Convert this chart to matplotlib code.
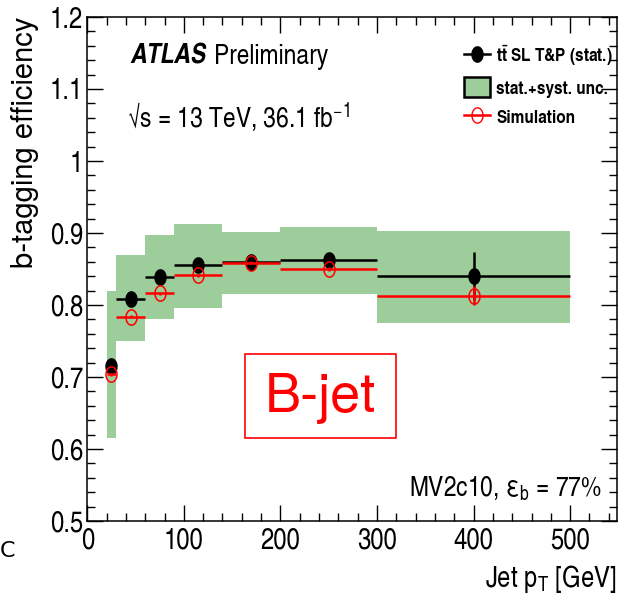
import numpy as np
import matplotlib
matplotlib.use("Agg")
import matplotlib.pyplot as plt
from matplotlib.path import Path
from matplotlib.patches import Patch, Rectangle
from matplotlib.lines import Line2D
from matplotlib.ticker import MultipleLocator

# ---- data -------------------------------------------------------------
bin_lo = [20, 30, 60, 90, 140, 200, 300]
bin_hi = [30, 60, 90, 140, 200, 300, 500]
data_eff = [0.715, 0.808, 0.839, 0.856, 0.860, 0.862, 0.840]
data_stat = [0.004, 0.003, 0.003, 0.003, 0.003, 0.006, 0.033]
total_lo = [0.615, 0.750, 0.781, 0.796, 0.815, 0.815, 0.775]
total_hi = [0.819, 0.870, 0.897, 0.912, 0.901, 0.908, 0.903]
sim_eff = [0.704, 0.784, 0.816, 0.841, 0.859, 0.850, 0.813]
sim_err = [0.002, 0.002, 0.002, 0.002, 0.002, 0.003, 0.013]

x_ticks = [0, 100, 200, 300, 400, 500]
y_ticks = [0.5, 0.6, 0.7, 0.8, 0.9, 1.0, 1.1, 1.2]
y_tick_labels = ["0.5", "0.6", "0.7", "0.8", "0.9", "1", "1.1", "1.2"]

# ---- fonts ------------------------------------------------------------
CN = "TeX Gyre Heros Cn"
REG = "TeX Gyre Heros"
plt.rcParams["font.family"] = [CN, "DejaVu Sans"]
plt.rcParams["mathtext.fontset"] = "custom"
plt.rcParams["mathtext.rm"] = CN
plt.rcParams["mathtext.it"] = CN + ":italic"
plt.rcParams["mathtext.bf"] = CN + ":bold"

GREEN = "#9dcd9b"

bin_lo = np.array(bin_lo, float)
bin_hi = np.array(bin_hi, float)
centers = 0.5 * (bin_lo + bin_hi)
half_w = 0.5 * (bin_hi - bin_lo)

# vertically elongated point marker
t = np.linspace(0, 2 * np.pi, 80)
ell = Path(np.column_stack([0.72 * np.cos(t), np.sin(t)]), closed=True)

fig = plt.figure(figsize=(6.19, 6.01), dpi=100)
W, H = 619, 601
ax = fig.add_axes([87.3 / W, 1 - 521 / H, (616.5 - 87.3) / W, (521 - 17) / H])

# total uncertainty band
ax.bar(centers, np.array(total_hi) - np.array(total_lo), bottom=total_lo,
       width=bin_hi - bin_lo, color=GREEN, edgecolor="none", zorder=1)

# measured efficiency with statistical errors
ax.errorbar(centers, data_eff, xerr=half_w, yerr=data_stat, fmt="none",
            ecolor="black", elinewidth=1.8, capsize=0, zorder=3)
ax.plot(centers, data_eff, linestyle="none", marker=ell, markersize=11,
        color="black", zorder=3.5)
# simulated efficiency
ax.errorbar(centers, sim_eff, xerr=half_w, yerr=sim_err, fmt="none",
            ecolor="red", elinewidth=1.8, capsize=0, zorder=4)
ax.plot(centers, sim_eff, linestyle="none", marker=ell, markersize=11,
        markerfacecolor="none", markeredgecolor="red", markeredgewidth=1.1,
        zorder=4.5)

ax.set_xlim(0, 548)
ax.set_ylim(0.5, 1.2)
ax.set_xticks(x_ticks)
ax.set_yticks(y_ticks)
ax.set_yticklabels(y_tick_labels)
ax.xaxis.set_minor_locator(MultipleLocator(20))
ax.yaxis.set_minor_locator(MultipleLocator(0.02))
ax.tick_params(which="both", direction="in", top=True, right=True, width=1.0,
               labelsize=21)
ax.tick_params(which="major", length=11.5)
ax.tick_params(which="minor", length=5.8)
ax.tick_params(axis="y", pad=3)
ax.tick_params(axis="x", pad=5)
for s in ax.spines.values():
    s.set_linewidth(1.1)

ax.set_xlabel(r"Jet p$_\mathrm{T}$ [GeV]", fontsize=21, ha="right", x=1.0)
ax.xaxis.set_label_coords(1.0, -0.083)
ax.set_ylabel("b-tagging efficiency", fontsize=21, family=REG, ha="right", y=1.0)
ax.yaxis.set_label_coords(-0.092, 1.0)

# annotations
atlas = ax.text(0.081, 0.895, "ATLAS", transform=ax.transAxes, fontsize=20,
                fontweight="bold", fontstyle="italic", va="bottom")
ax.annotate("Preliminary", xy=(1, 0), xycoords=atlas, xytext=(6, 0),
            textcoords="offset points", fontsize=20, va="bottom", ha="left")
ax.text(0.075, 0.78, "\u221As = 13 TeV, 36.1 fb$^{-1}$", transform=ax.transAxes,
        fontsize=20, va="baseline")
ax.text(533, 0.536, "MV2c10, \u03b5$_\\mathrm{b}$ = 77%", fontsize=20,
        ha="right", va="baseline")

ax.add_patch(Rectangle((163, 0.615), 156.5, 0.117, facecolor="white",
                       edgecolor="red", linewidth=1.2, zorder=5))
ax.text(241, 0.651, "B-jet", color="red", fontsize=39, family=REG,
        ha="center", va="baseline", zorder=6)

fig.text(0.0, 1 - 551 / H, "C", fontsize=16, family="DejaVu Sans",
         va="center", ha="left")

# legend
h_data = Line2D([], [], color="black", marker=ell, markersize=11, linewidth=1.8)
h_band = Patch(facecolor=GREEN, edgecolor="black", linewidth=1.8)
h_sim = Line2D([], [], color="red", marker=ell, markersize=11,
               markerfacecolor="none", markeredgecolor="red", linewidth=1.8)
ax.legend([h_data, h_band, h_sim],
          [r"t$\bar{\mathbf{t}}$ SL T&P (stat.)", "stat.+syst. unc.", "Simulation"],
          loc="upper left", bbox_to_anchor=(451 / W, 1 - 30 / H),
          bbox_transform=fig.transFigure, frameon=False,
          prop={"family": [CN, "DejaVu Sans"], "weight": "bold", "size": 13.5},
          handlelength=1.4, handleheight=1.25, handletextpad=0.3,
          labelspacing=0.5, borderpad=0.2)

fig.savefig("out.png", dpi=100)
